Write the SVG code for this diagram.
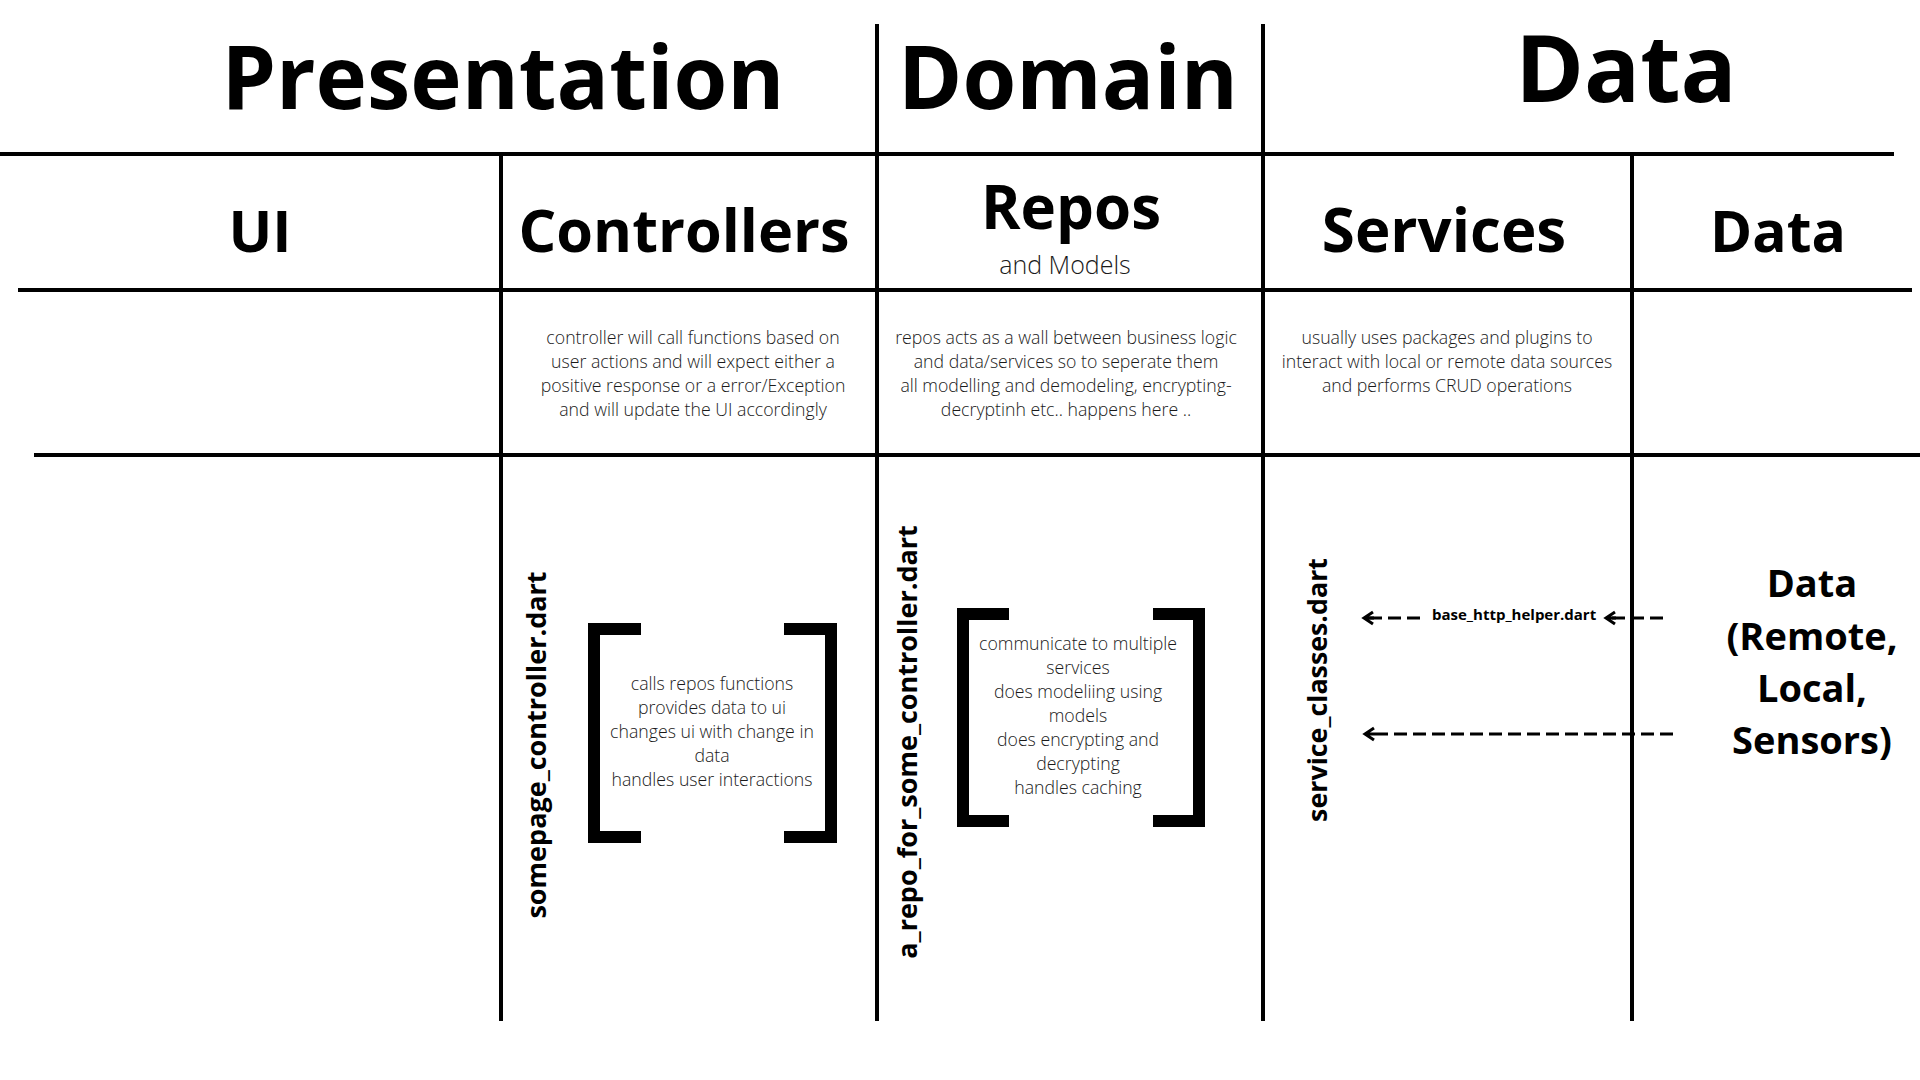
<svg xmlns="http://www.w3.org/2000/svg" width="1920" height="1080" viewBox="0 0 1920 1080">
  <style>
    .grid line { stroke: #000; stroke-width: 4; }
    .t { font-family: "Open Sans", "Liberation Sans", sans-serif; fill: #000; }
    .h1 { font-weight: 700; font-size: 87px; text-anchor: middle; }
    .h2 { font-weight: 700; font-size: 60px; text-anchor: middle; }
    .desc { font-weight: 300; font-size: 17.7px; text-anchor: middle; fill: #1a1a1a; }
    .file { font-weight: 700; font-size: 27px; text-anchor: middle; }
    .bracket { fill: #000; }
    .conn { stroke: #000; stroke-width: 3; fill: none; stroke-dasharray: 13 6; }
  </style>
  <defs>
    <marker id="arrow" markerUnits="userSpaceOnUse" markerWidth="24" markerHeight="24" viewBox="-12 -12 24 24" refX="0" refY="0" orient="auto" overflow="visible">
      <path d="M-9,-6 L0,0 L-9,6 M-10,0 L0,0" stroke="#000" stroke-width="3" fill="none" stroke-linejoin="miter"/>
    </marker>
  </defs>
  <rect width="1920" height="1080" fill="#fff"/>

  <g id="grid" class="grid">
    <line x1="0" y1="154" x2="1894" y2="154"/>
    <line x1="18" y1="290" x2="1912" y2="290"/>
    <line x1="34" y1="455" x2="1920" y2="455"/>
    <line x1="501" y1="154" x2="501" y2="1021"/>
    <line x1="877" y1="24" x2="877" y2="1021"/>
    <line x1="1263" y1="24" x2="1263" y2="1021"/>
    <line x1="1632" y1="156" x2="1632" y2="1021"/>
  </g>

  <g id="layer-presentation"><text class="t h1" x="503" y="109">Presentation</text></g>
  <g id="layer-domain"><text class="t h1" x="1068" y="109">Domain</text></g>
  <g id="layer-data"><text class="t h1" x="1626" y="102" style="font-size:93px">Data</text></g>

  <g id="col-ui"><text class="t h2" x="260" y="252" style="font-size:58px">UI</text></g>
  <g id="col-controllers">
    <text class="t h2" x="684" y="252" style="font-size:59.4px">Controllers</text>
    <text class="t desc" x="693" y="344">controller will call functions based on</text>
    <text class="t desc" x="693" y="368">user actions and will expect either a</text>
    <text class="t desc" x="693" y="392">positive response or a error/Exception</text>
    <text class="t desc" x="693" y="416">and will update the UI accordingly</text>
  </g>
  <g id="col-repos">
    <text class="t h2" x="1071" y="229">Repos</text>
    <text class="t" x="1065" y="274" style="font-weight:300;font-size:25px;text-anchor:middle;fill:#1a1a1a">and Models</text>
    <text class="t desc" x="1066" y="344">repos acts as a wall between business logic</text>
    <text class="t desc" x="1066" y="368">and data/services so to seperate them</text>
    <text class="t desc" x="1066" y="392">all modelling and demodeling, encrypting-</text>
    <text class="t desc" x="1066" y="416">decryptinh etc.. happens here ..</text>
  </g>
  <g id="col-services">
    <text class="t h2" x="1444" y="252">Services</text>
    <text class="t desc" x="1447" y="344">usually uses packages and plugins to</text>
    <text class="t desc" x="1447" y="368">interact with local or remote data sources</text>
    <text class="t desc" x="1447" y="392">and performs CRUD operations</text>
  </g>
  <g id="col-data"><text class="t h2" x="1778" y="252" style="font-size:57px">Data</text></g>

  <g id="somepage-controller">
    <text class="t file" transform="translate(546,745) rotate(-90)">somepage_controller.dart</text>
    <path class="bracket" d="M641,623 H588 V843 H641 V831 H600 V635 H641 Z"/>
    <path class="bracket" d="M784,623 H837 V843 H784 V831 H825 V635 H784 Z"/>
    <text class="t desc" x="712" y="690">calls repos functions</text>
    <text class="t desc" x="712" y="714">provides data to ui</text>
    <text class="t desc" x="712" y="738">changes ui with change in</text>
    <text class="t desc" x="712" y="762">data</text>
    <text class="t desc" x="712" y="786">handles user interactions</text>
  </g>

  <g id="repo-file">
    <text class="t file" transform="translate(917,742) rotate(-90)">a_repo_for_some_controller.dart</text>
    <path class="bracket" d="M1009,608 H957 V827 H1009 V815 H969 V620 H1009 Z"/>
    <path class="bracket" d="M1153,608 H1205 V827 H1153 V815 H1193 V620 H1153 Z"/>
    <text class="t desc" x="1078" y="650">communicate to multiple</text>
    <text class="t desc" x="1078" y="674">services</text>
    <text class="t desc" x="1078" y="698">does modeliing using</text>
    <text class="t desc" x="1078" y="722">models</text>
    <text class="t desc" x="1078" y="746">does encrypting and</text>
    <text class="t desc" x="1078" y="770">decrypting</text>
    <text class="t desc" x="1078" y="794">handles caching</text>
  </g>

  <g id="service-classes">
    <text class="t file" transform="translate(1327,690) rotate(-90)" style="font-size:26.8px">service_classes.dart</text>
  </g>

  <g id="base-http-helper">
    <text class="t" x="1432" y="620" style="font-weight:700;font-size:15px">base_http_helper.dart</text>
  </g>

  <g id="data-sources">
    <text class="t" x="1812" y="597" style="font-weight:700;font-size:38px;text-anchor:middle">Data</text>
    <text class="t" x="1812" y="650" style="font-weight:700;font-size:38px;text-anchor:middle">(Remote,</text>
    <text class="t" x="1812" y="702" style="font-weight:700;font-size:38px;text-anchor:middle">Local,</text>
    <text class="t" x="1812" y="754" style="font-weight:700;font-size:38px;text-anchor:middle">Sensors)</text>
  </g>

  <g id="connectors">
    <path class="conn" d="M1420,618 L1364,618" marker-end="url(#arrow)"/>
    <path class="conn" d="M1663,618 L1606,618" marker-end="url(#arrow)"/>
    <path class="conn" d="M1673,734 L1365,734" marker-end="url(#arrow)"/>
  </g>
</svg>
